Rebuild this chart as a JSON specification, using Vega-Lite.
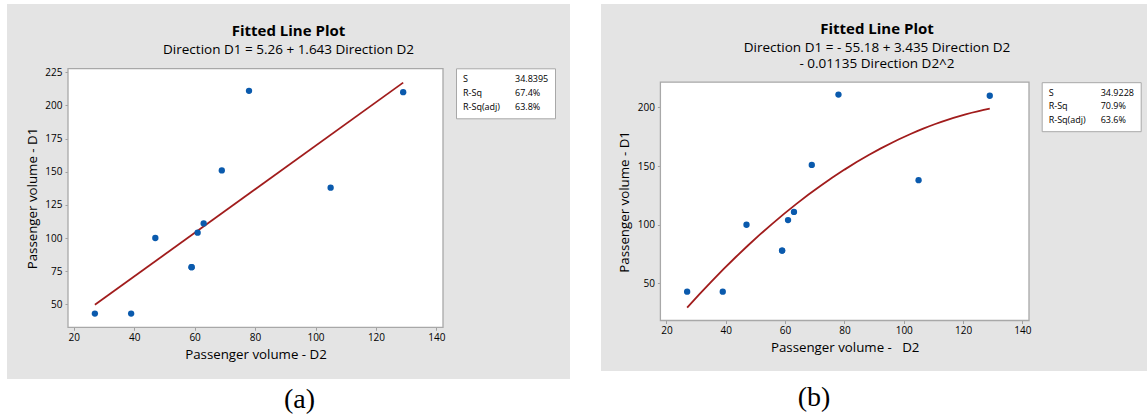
{
  "$schema": "https://vega.github.io/schema/vega-lite/v6.json",
  "padding": {"left": 7, "top": 4, "right": 0, "bottom": 0},
  "background": "white",
  "config": {
    "font": "Open Sans",
    "view": {"stroke": null},
    "axis": {"grid": false, "domain": false, "tickColor": "#a0a0a0", "tickSize": 3, "labelFontSize": 10, "labelColor": "black", "labelFlush": false, "labelOverlap": false, "titleFontSize": 13.3, "titleFontWeight": "normal", "titleColor": "black"}
  },
  "datasets": {
    "pts": [
      {"D2": 27, "D1": 43},
      {"D2": 39, "D1": 43},
      {"D2": 47, "D1": 100},
      {"D2": 59, "D1": 78},
      {"D2": 59, "D1": 78},
      {"D2": 61, "D1": 104},
      {"D2": 63, "D1": 111},
      {"D2": 69, "D1": 151},
      {"D2": 78, "D1": 211},
      {"D2": 105, "D1": 138},
      {"D2": 129, "D1": 210}
    ],
    "statsA": [
      {"entry": "S"}, {"entry": "R-Sq"}, {"entry": "R-Sq(adj)"},
      {"entry": "34.8395"}, {"entry": "67.4%"}, {"entry": "63.8%"}
    ],
    "statsB": [
      {"entry": "S"}, {"entry": "R-Sq"}, {"entry": "R-Sq(adj)"},
      {"entry": "34.9228"}, {"entry": "70.9%"}, {"entry": "63.6%"}
    ]
  },
  "spacing": 31,
  "resolve": {
    "scale": {"x": "independent", "y": "independent", "color": "independent"},
    "axis": {"x": "independent", "y": "independent"},
    "legend": {"color": "independent"}
  },
  "hconcat": [
    {
      "title": {"text": "(a)", "orient": "bottom", "anchor": "middle", "font": "Liberation Serif", "fontSize": 28, "fontWeight": "normal", "color": "black", "offset": 7, "dx": 11},
      "resolve": {
        "scale": {"x": "independent", "y": "independent", "color": "independent"},
        "legend": {"color": "independent"}
      },
      "vconcat": [
        {
          "width": 563,
          "height": 375,
          "view": {"fill": "#e4e4e4", "stroke": null},
          "title": {"text": "Fitted Line Plot", "subtitle": "Direction D1 = 5.26 + 1.643 Direction D2", "frame": "group", "anchor": "middle", "offset": -52, "fontSize": 15, "fontWeight": "bold", "color": "black", "subtitleFontSize": 13.5, "subtitleColor": "black", "subtitlePadding": 4, "subtitleFont": "Open Sans"},
          "layer": [
            {
              "data": {"values": [{}]},
              "mark": {"type": "rect", "fill": "white", "stroke": "#a8a8a8", "strokeWidth": 1.3},
              "encoding": {
                "x": {"datum": 18.11, "type": "quantitative"},
                "x2": {"datum": 142.18},
                "y": {"datum": 32.65, "type": "quantitative"},
                "y2": {"datum": 227.7}
              }
            },
            {
              "data": {"name": "pts"},
              "transform": [{"regression": "D1", "on": "D2", "method": "linear"}],
              "mark": {"type": "line", "color": "#a11c1c", "strokeWidth": 1.8},
              "encoding": {
                "x": {"field": "D2", "type": "quantitative"},
                "y": {"field": "D1", "type": "quantitative"}
              }
            },
            {
              "data": {"name": "pts"},
              "mark": {"type": "circle", "size": 40, "color": "#0a5aad", "opacity": 1},
              "encoding": {
                "x": {"field": "D2", "type": "quantitative",
                  "scale": {"domain": [18.11, 142.18], "range": [61, 436], "nice": false, "zero": false},
                  "axis": {"orient": "bottom", "offset": -51.7, "values": [20, 40, 60, 80, 100, 120, 140], "title": "Passenger volume - D2", "labelPadding": 2, "titlePadding": 5}},
                "y": {"field": "D1", "type": "quantitative",
                  "scale": {"domain": [32.65, 227.7], "range": [323.3, 64.7], "nice": false, "zero": false},
                  "axis": {"orient": "left", "offset": -61, "values": [50, 75, 100, 125, 150, 175, 200, 225], "title": "Passenger volume - D1", "labelPadding": 3, "titlePadding": 5}}
              }
            },
            {
              "data": {"name": "statsA"},
              "mark": {"type": "point", "opacity": 0, "size": 1},
              "encoding": {
                "color": {"field": "entry", "type": "nominal", "sort": null, "scale": {"range": ["black"]},
                  "legend": {"title": null, "orient": "none", "legendX": 449, "legendY": 64.3, "columns": 2, "fillColor": "white", "strokeColor": "#a8a8a8", "padding": 6, "symbolSize": 1, "symbolStrokeWidth": 0, "symbolOpacity": 0, "labelFontSize": 9, "labelColor": "black", "labelOffset": -8, "columnPadding": 14, "rowPadding": 4, "labelLimit": 0}}
              }
            }
          ]
        }
      ]
    },
    {
      "title": {"text": "(b)", "orient": "bottom", "anchor": "middle", "font": "Liberation Serif", "fontSize": 28, "fontWeight": "normal", "color": "black", "offset": 13, "dx": -60},
      "resolve": {
        "scale": {"x": "independent", "y": "independent", "color": "independent"},
        "legend": {"color": "independent"}
      },
      "vconcat": [
        {
          "width": 546,
          "height": 367,
          "view": {"fill": "#e4e4e4", "stroke": null},
          "title": {"text": "Fitted Line Plot", "subtitle": ["Direction D1 = - 55.18 + 3.435 Direction D2", "- 0.01135 Direction D2^2"], "frame": "group", "anchor": "middle", "offset": -67, "dx": 3, "fontSize": 15, "fontWeight": "bold", "color": "black", "subtitleFontSize": 13.5, "subtitleColor": "black", "subtitlePadding": 4, "subtitleLineHeight": 16.7, "subtitleFont": "Open Sans"},
          "layer": [
            {
              "data": {"values": [{}]},
              "mark": {"type": "rect", "fill": "white", "stroke": "#a8a8a8", "strokeWidth": 1.3},
              "encoding": {
                "x": {"datum": 17.98, "type": "quantitative"},
                "x2": {"datum": 142.22},
                "y": {"datum": 18.4, "type": "quantitative"},
                "y2": {"datum": 221.55}
              }
            },
            {
              "data": {"name": "pts"},
              "transform": [{"regression": "D1", "on": "D2", "method": "poly", "order": 2}],
              "mark": {"type": "line", "color": "#a11c1c", "strokeWidth": 1.8},
              "encoding": {
                "x": {"field": "D2", "type": "quantitative"},
                "y": {"field": "D1", "type": "quantitative"}
              }
            },
            {
              "data": {"name": "pts"},
              "mark": {"type": "circle", "size": 40, "color": "#0a5aad", "opacity": 1},
              "encoding": {
                "x": {"field": "D2", "type": "quantitative",
                  "scale": {"domain": [17.98, 142.22], "range": [59.4, 428], "nice": false, "zero": false},
                  "axis": {"orient": "bottom", "offset": -50.5, "values": [20, 40, 60, 80, 100, 120, 140], "title": "Passenger volume -\u00a0\u00a0 D2", "labelPadding": 2, "titlePadding": 5}},
                "y": {"field": "D1", "type": "quantitative",
                  "scale": {"domain": [18.4, 221.55], "range": [316.5, 78.2], "nice": false, "zero": false},
                  "axis": {"orient": "left", "offset": -59.4, "values": [50, 100, 150, 200], "title": "Passenger volume - D1", "labelPadding": 3, "titlePadding": 6}}
              }
            },
            {
              "data": {"name": "statsB"},
              "mark": {"type": "point", "opacity": 0, "size": 1},
              "encoding": {
                "color": {"field": "entry", "type": "nominal", "sort": null, "scale": {"range": ["black"]},
                  "legend": {"title": null, "orient": "none", "legendX": 440.7, "legendY": 78.2, "columns": 2, "fillColor": "white", "strokeColor": "#a8a8a8", "padding": 6, "symbolSize": 1, "symbolStrokeWidth": 0, "symbolOpacity": 0, "labelFontSize": 9, "labelColor": "black", "labelOffset": -8, "columnPadding": 14, "rowPadding": 3.4, "labelLimit": 0}}
              }
            }
          ]
        }
      ]
    }
  ]
}
